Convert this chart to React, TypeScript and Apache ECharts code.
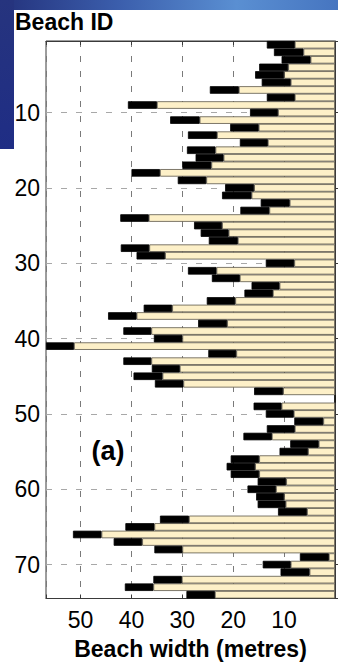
import React, { useEffect, useRef } from 'react';
import * as echarts from 'echarts';

// Beach IDs (rows, top to bottom)
const beachIds = [
  '1', '2', '3', '4', '5', '6', '7', '8', '9', '10',
  '11', '12', '13', '14', '15', '16', '17', '18', '19', '20',
  '21', '22', '23', '24', '25', '26', '27', '28', '29', '30',
  '31', '32', '33', '34', '35', '36', '37', '38', '39', '40',
  '41', '42', '43', '44', '45', '46', '47', '48', '49', '50',
  '51', '52', '53', '54', '55', '56', '57', '58', '59', '60',
  '61', '62', '63', '64', '65', '66', '67', '68', '69', '70',
  '71', '72', '73', '74',
];

// Minimum beach width (end of the beige bar), metres
const minWidth = [
  7.9, 6.2, 4.8, 9.2, 10.0, 8.7, 18.9, 7.9, 35.0, 11.2,
  26.6, 15.0, 23.2, 13.2, 23.5, 21.9, 24.3, 34.4, 25.3, 15.9,
  16.4, 8.9, 12.9, 36.6, 22.2, 20.9, 19.1, 36.5, 33.4, 8.0,
  23.3, 18.7, 10.9, 12.2, 19.6, 32.0, 39.0, 21.2, 36.1, 30.0,
  51.3, 19.4, 36.1, 30.5, 33.9, 29.8, 10.2, 0, 10.5, 8.1,
  2.3, 7.9, 12.4, 3.2, 5.3, 14.9, 15.7, 14.9, 9.6, 11.6,
  10.0, 9.7, 5.5, 28.7, 35.5, 45.9, 37.9, 30.0, 1.2, 8.7,
  5.0, 30.1, 35.7, 23.6,
];

// Maximum beach width (end of the black block), metres
const maxWidth = [
  13.4, 12.0, 10.5, 14.9, 15.7, 14.4, 24.6, 13.4, 40.7, 16.7,
  32.4, 20.6, 28.9, 18.7, 29.1, 27.4, 30.0, 40.0, 30.9, 21.6,
  22.2, 14.6, 18.6, 42.2, 27.7, 26.4, 24.8, 42.1, 39.0, 13.6,
  28.9, 24.2, 16.4, 17.8, 25.2, 37.6, 44.6, 26.9, 41.6, 35.6,
  56.8, 24.9, 41.6, 36.0, 39.6, 35.4, 15.9, 0, 16.0, 13.6,
  8.0, 13.4, 18.0, 8.8, 10.9, 20.5, 21.3, 20.5, 15.2, 17.2,
  15.5, 15.2, 11.2, 34.4, 41.2, 51.5, 43.5, 35.5, 6.9, 14.2,
  10.7, 35.7, 41.3, 29.2,
];

const xTickLabels = ['50', '40', '30', '20', '10'];
const yTickLabels = ['10', '20', '30', '40', '50', '60', '70'];

const FONT = '"Liberation Sans", Arial, Helvetica, sans-serif';

export default function App() {
  const ref = useRef<HTMLDivElement>(null);

  useEffect(() => {
    if (!ref.current) return;
    const chart = echarts.init(ref.current, null, { renderer: 'svg' });
    const rangeSpan = maxWidth.map((m, i) => +(m - minWidth[i]).toFixed(2));

    chart.setOption({
      animation: false,
      backgroundColor: '#ffffff',
      grid: {
        left: 46,
        right: 0.5,
        top: 41,
        bottom: 67.5,
        show: true,
        borderColor: '#3a3a3a',
        borderWidth: 1,
        backgroundColor: '#ffffff',
      },
      xAxis: [
        {
          type: 'value',
          inverse: true,
          min: 0,
          max: 56.8,
          interval: 10,
          position: 'bottom',
          name: 'Beach width (metres)',
          nameLocation: 'middle',
          nameGap: 39,
          nameTextStyle: { fontFamily: FONT, fontSize: 23, fontWeight: 'bold', color: '#000' },
          axisLine: { show: true, lineStyle: { color: '#3a3a3a', width: 1 } },
          axisTick: { show: true, inside: true, length: 4, lineStyle: { color: '#3a3a3a' } },
          axisLabel: {
            margin: 10,
            fontFamily: FONT,
            fontSize: 23,
            color: '#000',
            formatter: (v: number) => (xTickLabels.indexOf(String(v)) >= 0 ? String(v) : ''),
          },
          splitLine: { show: true, lineStyle: { color: '#7a7a7a', width: 1, type: [6, 9] } },
        },
        {
          type: 'value',
          inverse: true,
          min: 0,
          max: 56.8,
          interval: 10,
          position: 'top',
          axisLine: { show: true, lineStyle: { color: '#3a3a3a', width: 1 } },
          axisTick: { show: true, inside: true, length: 4, lineStyle: { color: '#3a3a3a' } },
          axisLabel: { show: false },
          splitLine: { show: false },
        },
      ],
      yAxis: [
        {
          type: 'category',
          data: beachIds,
          inverse: true,
          show: false,
        },
        {
          type: 'value',
          min: 0.5,
          max: 74.5,
          splitNumber: 7,
          inverse: true,
          position: 'left',
          axisLine: { show: true, lineStyle: { color: '#3a3a3a', width: 1 } },
          axisTick: { show: true, inside: true, length: 4, lineStyle: { color: '#3a3a3a' } },
          axisLabel: {
            margin: 6,
            fontFamily: FONT,
            fontSize: 23,
            color: '#000',
            formatter: (v: number) => (yTickLabels.indexOf(String(v)) >= 0 ? String(v) : ''),
          },
          splitLine: { show: true, lineStyle: { color: '#a8a8a8', width: 1, type: [6, 9] } },
        },
      ],
      series: [
        {
          name: 'Minimum width',
          type: 'bar',
          stack: 'w',
          xAxisIndex: 0,
          yAxisIndex: 0,
          data: minWidth,
          barWidth: '100%',
          barCategoryGap: 0,
          itemStyle: { color: '#fdf0c8', borderColor: '#5c574a', borderWidth: 0.8 },
        },
        {
          name: 'Width range',
          type: 'bar',
          stack: 'w',
          xAxisIndex: 0,
          yAxisIndex: 0,
          data: rangeSpan,
          barWidth: '100%',
          barCategoryGap: 0,
          itemStyle: { color: '#000000', borderColor: '#000000', borderWidth: 0.8 },
        },
      ],
      graphic: [
        {
          type: 'rect',
          shape: { x: 0, y: 0, width: 338, height: 10 },
          style: {
            fill: new echarts.graphic.LinearGradient(0, 0, 1, 0, [
              { offset: 0, color: '#24327c' },
              { offset: 0.35, color: '#3b5eac' },
              { offset: 0.7, color: '#5a8fd2' },
              { offset: 1, color: '#4675c0' },
            ]),
          },
          silent: true,
        },
        {
          type: 'rect',
          shape: { x: 0, y: 0, width: 14, height: 149 },
          style: {
            fill: new echarts.graphic.LinearGradient(0, 0, 0, 1, [
              { offset: 0, color: '#26347e' },
              { offset: 1, color: '#1f2d85' },
            ]),
          },
          silent: true,
        },
        {
          type: 'text',
          x: 15,
          y: 21.5,
          style: {
            text: 'Beach ID',
            fontFamily: FONT,
            fontSize: 23,
            fontWeight: 'bold',
            fill: '#000',
            align: 'left',
            verticalAlign: 'middle',
          },
        },
        {
          type: 'text',
          x: 108,
          y: 451,
          style: {
            text: '(a)',
            fontFamily: FONT,
            fontSize: 27,
            fontWeight: 'bold',
            fill: '#000',
            align: 'center',
            verticalAlign: 'middle',
          },
        },
      ],
    });

    return () => chart.dispose();
  }, []);

  return (
    <div
      ref={ref}
      style={{ position: 'fixed', left: 0, top: 0, width: 338, height: 666, background: '#fff' }}
    />
  );
}
